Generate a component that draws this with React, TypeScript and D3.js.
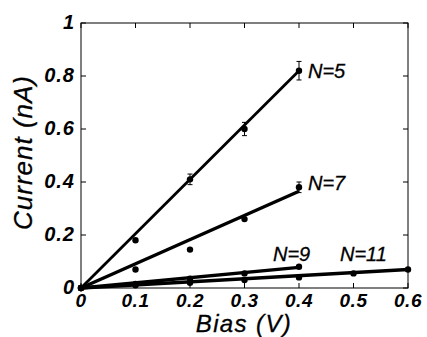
import * as d3 from "d3";

const width = 427;
const height = 337;
const margin = { top: 23, right: 19, bottom: 49, left: 81 };

const xTicks = [0, 0.1, 0.2, 0.3, 0.4, 0.5, 0.6];
const yTicks = [0, 0.2, 0.4, 0.6, 0.8, 1];

// bias values (V) for each chain length
const biasShort = [0, 0.1, 0.2, 0.3, 0.4];
const biasLong = [0, 0.1, 0.2, 0.3, 0.4, 0.5, 0.6];

const currentN5 = [0, 0.18, 0.41, 0.6, 0.82];
const errN5 = [0, 0.005, 0.02, 0.025, 0.035];
const currentN7 = [0, 0.07, 0.145, 0.26, 0.38];
const errN7 = [0, 0, 0, 0.005, 0.02];
const currentN9 = [0, 0.015, 0.035, 0.055, 0.08];
const currentN11 = [0, 0.01, 0.02, 0.03, 0.04, 0.055, 0.07];

// end point of each linear fit
const fitEnds = [0.82, 0.365, 0.078, 0.07];
const seriesNames = ["N=5", "N=7", "N=9", "N=11"];

type Series = {
  name: string;
  xs: number[];
  ys: number[];
  errs: number[];
  fitEnd: number;
  lineW: number;
  labelDx: number;
  labelAt: number;
};

const series: Series[] = [
  { name: seriesNames[0], xs: biasShort, ys: currentN5, errs: errN5, fitEnd: fitEnds[0], lineW: 2.8, labelDx: 9, labelAt: 0.82 },
  { name: seriesNames[1], xs: biasShort, ys: currentN7, errs: errN7, fitEnd: fitEnds[1], lineW: 3.4, labelDx: 9, labelAt: 0.395 },
  { name: seriesNames[2], xs: biasShort, ys: currentN9, errs: [], fitEnd: fitEnds[2], lineW: 3.4, labelDx: -26, labelAt: 0.127 },
  { name: seriesNames[3], xs: biasLong, ys: currentN11, errs: [], fitEnd: fitEnds[3], lineW: 3.4, labelDx: -68, labelAt: 0.127 },
];

export default function App() {
  const x = d3.scaleLinear().domain([0, 0.6]).range([margin.left, width - margin.right]);
  const y = d3.scaleLinear().domain([0, 1]).range([height - margin.bottom, margin.top]);
  const font = "'Liberation Sans', Arial, sans-serif";

  return (
    <svg
      width={width}
      height={height}
      style={{ position: "absolute", left: 0, top: 0, background: "#fff" }}
    >
      <rect
        x={x(0)}
        y={y(1)}
        width={x(0.6) - x(0)}
        height={y(0) - y(1)}
        fill="none"
        stroke="#000"
        strokeWidth={1}
      />
      {/* inward ticks */}
      {xTicks.map((t) => (
        <g key={"xt" + t}>
          <line x1={x(t)} x2={x(t)} y1={y(0)} y2={y(0) - 5} stroke="#000" />
          <line x1={x(t)} x2={x(t)} y1={y(1)} y2={y(1) + 5} stroke="#000" />
          <text
            x={x(t)}
            y={y(0) + 19}
            textAnchor="middle"
            fontFamily={font}
            fontStyle="italic"
            fontWeight="bold"
            fontSize={19}
            letterSpacing={0.6}
          >
            {t}
          </text>
        </g>
      ))}
      {yTicks.map((t) => (
        <g key={"yt" + t}>
          <line x1={x(0)} x2={x(0) + 5} y1={y(t)} y2={y(t)} stroke="#000" />
          <line x1={x(0.6)} x2={x(0.6) - 5} y1={y(t)} y2={y(t)} stroke="#000" />
          <text
            x={x(0) - 6}
            y={y(t) + 6}
            textAnchor="end"
            fontFamily={font}
            fontStyle="italic"
            fontWeight="bold"
            fontSize={20}
            letterSpacing={1}
          >
            {t}
          </text>
        </g>
      ))}

      {series.map((s) => {
        const last = s.xs[s.xs.length - 1];
        return (
          <g key={s.name}>
            <line
              x1={x(0)}
              y1={y(0)}
              x2={x(last)}
              y2={y(s.fitEnd)}
              stroke="#000"
              strokeWidth={s.lineW}
            />
            {s.xs.map((v, i) =>
              s.errs[i] ? (
                <g key={"e" + i}>
                  <line x1={x(v)} x2={x(v)} y1={y(s.ys[i] - s.errs[i])} y2={y(s.ys[i] + s.errs[i])} stroke="#000" />
                  <line x1={x(v) - 2.5} x2={x(v) + 2.5} y1={y(s.ys[i] - s.errs[i])} y2={y(s.ys[i] - s.errs[i])} stroke="#000" />
                  <line x1={x(v) - 2.5} x2={x(v) + 2.5} y1={y(s.ys[i] + s.errs[i])} y2={y(s.ys[i] + s.errs[i])} stroke="#000" />
                </g>
              ) : null
            )}
            {s.xs.map((v, i) => (
              <circle key={"p" + i} cx={x(v)} cy={y(s.ys[i])} r={3.2} fill="#000" />
            ))}
            <text
              x={x(last) + s.labelDx}
              y={y(s.labelAt) + 7}
              fontFamily={font}
              fontStyle="italic"
              fontSize={20}
              stroke="#000"
              strokeWidth={0.3}
            >
              {s.name}
            </text>
          </g>
        );
      })}

      <text
        x={244}
        y={height - 5}
        textAnchor="middle"
        fontFamily={font}
        fontStyle="italic"
        fontSize={24}
        letterSpacing={1.4}
        stroke="#000"
        strokeWidth={0.3}
      >
        Bias (V)
      </text>
      <text
        transform={`translate(32, ${(y(0) + y(1)) / 2 - 3}) rotate(-90)`}
        textAnchor="middle"
        fontFamily={font}
        fontStyle="italic"
        fontSize={26}
        letterSpacing={1}
        stroke="#000"
        strokeWidth={0.3}
      >
        Current (nA)
      </text>
    </svg>
  );
}
